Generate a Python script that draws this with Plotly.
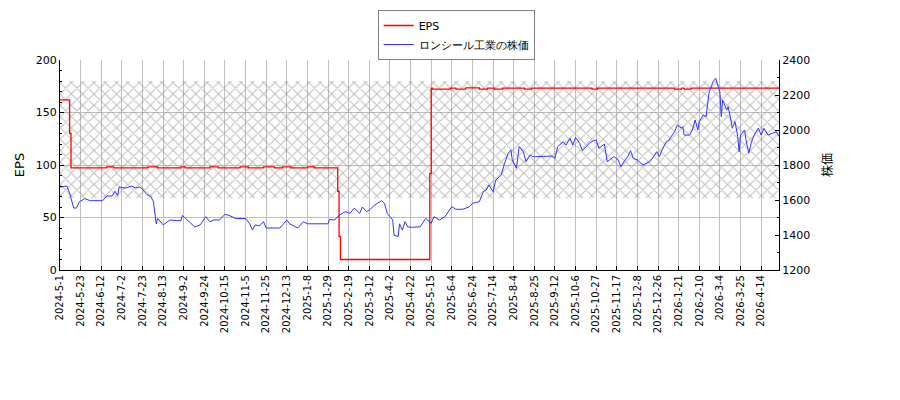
import plotly.graph_objects as go

# trading-day axis labels (one every 15 sessions)
tick_labels = ["2024-5-1", "2024-5-23", "2024-6-12", "2024-7-2", "2024-7-23", "2024-8-13",
               "2024-9-2", "2024-9-24", "2024-10-15", "2024-11-5", "2024-11-25", "2024-12-13",
               "2025-1-8", "2025-1-29", "2025-2-19", "2025-3-12", "2025-4-2", "2025-4-22",
               "2025-5-15", "2025-6-4", "2025-6-24", "2025-7-14", "2025-8-4", "2025-8-25",
               "2025-9-12", "2025-10-6", "2025-10-27", "2025-11-17", "2025-12-8", "2025-12-26",
               "2026-1-21", "2026-2-10", "2026-3-4", "2026-3-25", "2026-4-14"]
tick_idx = [i * 15 for i in range(len(tick_labels))]
last_idx = 523

# EPS (step values)
eps_idx = [0, 7, 8, 34, 39, 64, 71, 88, 91, 109, 115, 131, 137, 148, 156, 162, 168, 180, 185,
           202, 203, 204, 269, 270, 271, 284, 288, 295, 305, 311, 316, 322, 338, 343, 387, 391,
           447, 452, 454, 459, 523]
eps_val = [162, 130, 97.2, 98.3, 97.2, 98.3, 97.2, 98.3, 97.2, 98.3, 97.2, 98.3, 97.2, 98.3,
           97.2, 98.3, 97.2, 98.3, 97.2, 75, 32, 10, 92, 173.3, 172.3, 173.3, 172.3, 173.5,
           172.3, 173.3, 172.3, 173.3, 172.3, 173.3, 172.3, 173.3, 172.3, 173.3, 172.3, 173.3,
           173.3]

# share price (right axis)
price_idx = [0, 5, 7, 10, 12, 14, 18, 22, 31, 34, 38, 40, 42, 43, 48, 52, 55, 58, 60, 63, 66,
             68, 70, 71, 75, 80, 85, 88, 89, 93, 98, 102, 106, 109, 112, 116, 120, 123, 128, 135,
             138, 140, 142, 145, 148, 150, 160, 162, 165, 167, 171, 173, 177, 180, 195, 196, 200,
             202, 206, 208, 211, 214, 218, 220, 223, 225, 229, 231, 234, 236, 238, 242, 243, 246,
             247, 249, 251, 253, 257, 262, 266, 270, 272, 276, 280, 285, 288, 293, 298, 300, 305,
             308, 310, 312, 315, 317, 321, 323, 326, 328, 329, 332, 334, 337, 339, 342, 344, 346,
             351, 358, 360, 362, 366, 368, 371, 373, 375, 378, 380, 383, 385, 388, 390, 392, 396,
             398, 401, 403, 406, 408, 411, 413, 415, 417, 420, 424, 429, 431, 434, 436, 438, 441,
             443, 447, 449, 452, 453, 454, 458, 460, 462, 464, 465, 468, 470, 471, 472, 475, 477,
             478, 480, 481, 482, 485, 486, 488, 489, 491, 493, 494, 495, 498, 499, 501, 503, 505,
             508, 510, 512, 515, 518, 521, 523]
price_val = [1674, 1680, 1638, 1554, 1554, 1590, 1608, 1596, 1596, 1623, 1623, 1650, 1626, 1674,
             1668, 1680, 1668, 1674, 1662, 1632, 1620, 1590, 1464, 1494, 1458, 1486, 1482, 1482,
             1512, 1482, 1446, 1458, 1505, 1476, 1486, 1486, 1518, 1512, 1494, 1494, 1464, 1428,
             1458, 1452, 1476, 1440, 1440, 1458, 1486, 1464, 1446, 1440, 1476, 1464, 1464, 1488,
             1486, 1506, 1528, 1533, 1524, 1554, 1524, 1560, 1533, 1542, 1572, 1581, 1596, 1581,
             1524, 1486, 1398, 1392, 1464, 1428, 1476, 1446, 1444, 1447, 1495, 1467, 1505, 1486,
             1505, 1562, 1547, 1547, 1562, 1581, 1590, 1648, 1657, 1686, 1648, 1714, 1743, 1800,
             1867, 1886, 1829, 1781, 1905, 1876, 1819, 1857, 1848, 1848, 1851, 1851, 1838, 1905,
             1933, 1914, 1952, 1914, 1958, 1924, 1882, 1905, 1924, 1939, 1943, 1895, 1920, 1819,
             1838, 1848, 1829, 1790, 1829, 1848, 1882, 1838, 1829, 1800, 1819, 1838, 1876, 1848,
             1886, 1933, 1943, 1990, 2029, 2010, 2019, 1971, 1971, 2000, 2057, 2000, 2048, 2086,
             2076, 2143, 2210, 2276, 2295, 2267, 2219, 2076, 2171, 2114, 2133, 2057, 2010, 2048,
             1962, 1876, 1971, 2000, 1943, 1867, 1933, 1971, 2010, 1971, 2010, 1971, 1981, 1990,
             1962]

# hatched band (in EPS units)
band_low = 68.3
band_high = 180

fig = go.Figure()

fig.add_trace(go.Scatter(
    x=[0, last_idx, last_idx, 0, 0],
    y=[band_low, band_low, band_high, band_high, band_low],
    fill="toself", mode="lines", line=dict(width=0),
    fillcolor="rgba(0,0,0,0)",
    fillpattern=dict(shape="x", size=8, solidity=0.25, fgcolor="#808080",
                     bgcolor="rgba(0,0,0,0)"),
    showlegend=False, hoverinfo="skip"))

fig.add_trace(go.Scatter(x=eps_idx, y=eps_val, name="EPS", mode="lines",
                         line=dict(color="#ff0000", width=1.3, shape="hv")))

fig.add_trace(go.Scatter(x=price_idx, y=price_val, name="ロンシール工業の株価", mode="lines",
                         line=dict(color="#3333ff", width=1), yaxis="y2"))

# page is drawn with an 8px body offset, so margins are shifted to compensate
fig.update_layout(
    width=900, height=400,
    margin=dict(l=52, r=129, t=52, b=138, autoexpand=False),
    paper_bgcolor="white", plot_bgcolor="white",
    font=dict(family="DejaVu Sans", size=11, color="black"),
    showlegend=True,
    legend=dict(xref="paper", yref="paper", x=0.551, y=1.238,
                xanchor="center", yanchor="top", bgcolor="white",
                bordercolor="#808080", borderwidth=1, font=dict(size=11),
                tracegroupgap=0),
    xaxis=dict(range=[0, last_idx], tickvals=tick_idx, ticktext=tick_labels,
               tickangle=-90, ticks="inside", ticklen=4, tickcolor="black",
               showline=True, linecolor="black", linewidth=1, automargin=False,
               showgrid=True, gridcolor="#c0c0c0", gridwidth=1, zeroline=False,
               tickfont=dict(size=10)),
    yaxis=dict(range=[0, 200], dtick=50, title=dict(text="EPS", standoff=8),
               ticks="inside", ticklen=4, tickcolor="black", automargin=False,
               minor=dict(ticks="inside", dtick=10, ticklen=2, tickcolor="black", showgrid=False),
               showline=True, linecolor="black", linewidth=1,
               showgrid=True, gridcolor="#c0c0c0", gridwidth=1, zeroline=False),
    yaxis2=dict(range=[1200, 2400], dtick=200, overlaying="y", side="right",
                title=dict(text="株価", standoff=14,
                           font=dict(family="Noto Sans CJK JP", size=12)),
                ticks="inside", ticklen=4, tickcolor="black", automargin=False,
                minor=dict(ticks="inside", dtick=100, ticklen=2, tickcolor="black", showgrid=False),
                showline=True, linecolor="black", linewidth=1,
                showgrid=False, zeroline=False),
)

fig.write_html("out.html")
